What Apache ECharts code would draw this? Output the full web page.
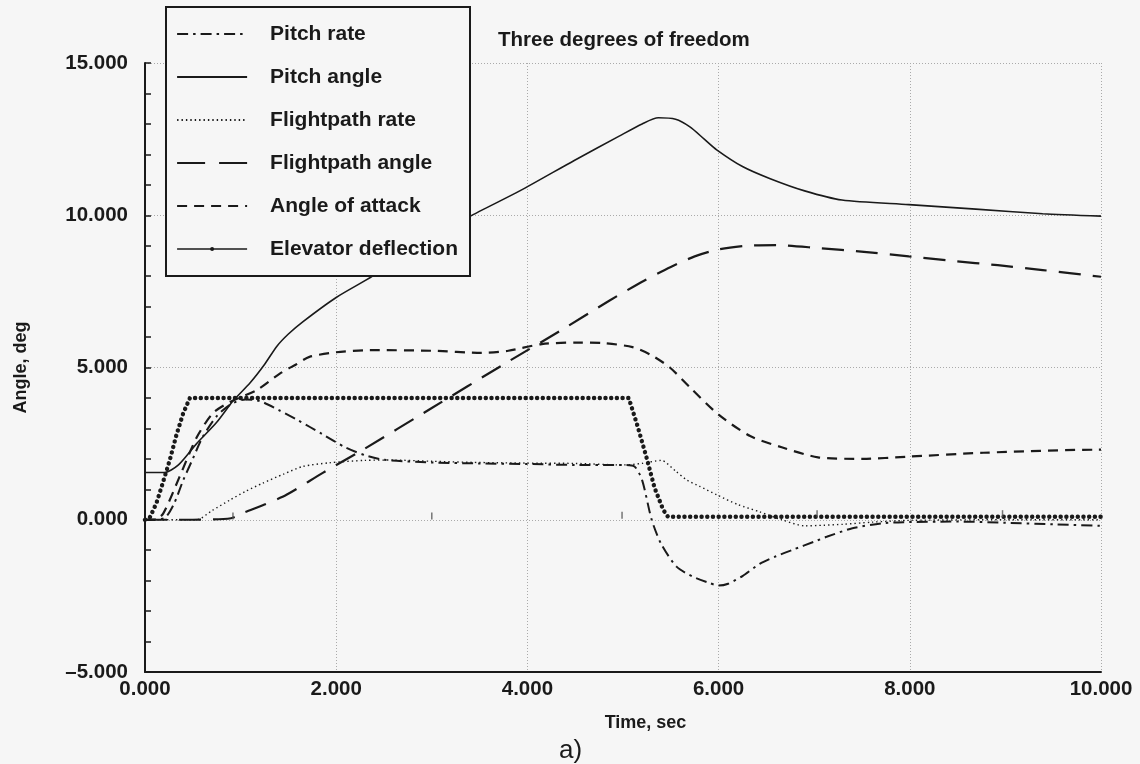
<!DOCTYPE html>
<html>
<head>
<meta charset="utf-8">
<script src="https://cdn.jsdelivr.net/npm/echarts@6/dist/echarts.min.js"></script>
<style>
html,body{margin:0;padding:0;background:#f6f6f6;}
#chart{width:1140px;height:764px;}
</style>
</head>
<body>
<div id="chart"></div>
<script>
// ---- Data (time in sec, angle in deg) ----
const xTicks = [0, 2, 4, 6, 8, 10];
const yTicks = [-5, 0, 5, 10, 15];

const pitchRateT = [0, 0.2, 0.3, 0.4, 0.5, 0.6, 0.75, 0.9, 1.05, 1.2, 1.4, 1.6, 1.85, 2.1, 2.3, 2.5, 3.0, 3.5, 4.0, 4.5, 5.0, 5.12, 5.2, 5.3, 5.4, 5.56, 5.73, 5.88, 6.0, 6.1, 6.25, 6.43, 6.6, 6.78, 7.0, 7.13, 7.4, 7.7, 7.93, 8.5, 9.0, 9.5, 10];
const pitchRateV = [0, 0.05, 0.5, 1.3, 2.0, 2.7, 3.4, 3.8, 3.95, 3.9, 3.6, 3.27, 2.82, 2.37, 2.12, 1.97, 1.88, 1.85, 1.83, 1.8, 1.8, 1.75, 1.3, 0.0, -0.8, -1.54, -1.87, -2.05, -2.16, -2.1, -1.85, -1.45, -1.2, -0.98, -0.72, -0.56, -0.28, -0.12, -0.08, -0.06, -0.1, -0.15, -0.2];

const pitchAngleT = [0, 0.2, 0.35, 0.54, 0.75, 0.92, 1.1, 1.25, 1.38, 1.5, 1.65, 2.0, 2.38, 2.8, 3.39, 3.92, 4.49, 4.96, 5.2, 5.37, 5.55, 5.7, 5.85, 5.98, 6.25, 6.54, 6.9, 7.29, 7.99, 8.69, 9.39, 10];
const pitchAngleV = [1.55, 1.55, 1.8, 2.5, 3.2, 3.9, 4.5, 5.1, 5.7, 6.1, 6.5, 7.3, 8.0, 8.9, 9.95, 10.8, 11.8, 12.6, 13.0, 13.2, 13.15, 12.9, 12.5, 12.15, 11.6, 11.2, 10.8, 10.5, 10.35, 10.2, 10.05, 9.97];

const flightpathRateT = [0, 0.54, 0.7, 0.89, 1.05, 1.23, 1.45, 1.65, 1.93, 2.3, 2.6, 3.0, 3.5, 4.0, 4.5, 5.0, 5.2, 5.4, 5.55, 5.67, 5.8, 5.98, 6.2, 6.43, 6.66, 6.9, 7.1, 7.3, 7.6, 8.0, 9.0, 10];
const flightpathRateV = [0, 0, 0.3, 0.65, 0.93, 1.2, 1.5, 1.75, 1.87, 1.95, 1.96, 1.92, 1.88, 1.86, 1.85, 1.8, 1.85, 1.95, 1.6, 1.3, 1.1, 0.82, 0.5, 0.26, 0.0, -0.2, -0.18, -0.15, -0.08, -0.02, 0, 0];

const flightpathAngleT = [0, 0.5, 0.9, 1.03, 1.25, 1.48, 1.86, 2.28, 3.0, 3.74, 4.34, 4.86, 5.22, 5.5, 5.75, 6.0, 6.3, 6.6, 7.05, 7.52, 7.99, 8.45, 8.92, 9.39, 10];
const flightpathAngleV = [0, 0, 0.05, 0.23, 0.5, 0.82, 1.54, 2.3, 3.67, 5.08, 6.2, 7.2, 7.85, 8.3, 8.65, 8.88, 9.0, 9.02, 8.92, 8.8, 8.65, 8.5, 8.36, 8.2, 7.98];

const attackT = [0, 0.1, 0.19, 0.36, 0.54, 0.71, 0.89, 1.17, 1.41, 1.58, 1.72, 2.0, 2.35, 3.0, 3.52, 3.8, 4.15, 4.54, 4.8, 5.1, 5.3, 5.49, 5.7, 6.0, 6.33, 6.66, 7.04, 7.51, 7.97, 8.77, 9.96, 10];
const attackV = [0, 0, 0.2, 1.4, 2.7, 3.5, 3.87, 4.26, 4.8, 5.1, 5.35, 5.5, 5.57, 5.55, 5.48, 5.55, 5.77, 5.82, 5.8, 5.67, 5.4, 5.0, 4.35, 3.45, 2.75, 2.38, 2.05, 2.0, 2.07, 2.2, 2.3, 2.3];

const elevatorT = [0, 0.05, 0.12, 0.19, 0.26, 0.33, 0.4, 0.47, 5.06, 5.15, 5.25, 5.33, 5.42, 5.47, 10];
const elevatorV = [0, 0.07, 0.55, 1.25, 1.97, 2.8, 3.5, 4.0, 4.0, 3.1, 2.0, 1.05, 0.33, 0.1, 0.1];

const tickMarkT = [0.92, 3.0, 4.99, 7.03, 8.97];
const tickMarkV = [0.12, 0.12, 0.15, 0.2, 0.2];

const seriesNames = ['Pitch rate', 'Pitch angle', 'Flightpath rate', 'Flightpath angle', 'Angle of attack', 'Elevator deflection'];

// ---- build ----
const zip = (t, v) => t.map((x, i) => [x, v[i]]);
const FONT = "'Liberation Sans', Arial, Helvetica, sans-serif";
const INK = '#1a1a1a';
const BG = '#f6f6f6';
const fmt = v => (v < 0 ? '\u2013' + Math.abs(v).toFixed(3) : v.toFixed(3));

const chart = echarts.init(document.getElementById('chart'), null, {renderer: 'canvas'});

function lineSeries(name, data, lineStyle, extra) {
  return Object.assign({
    name: name,
    type: 'line',
    data: data,
    symbol: 'none',
    showSymbol: false,
    smooth: 0.25,
    z: 2,
    animation: false,
    color: INK,
    lineStyle: Object.assign({color: INK}, lineStyle)
  }, extra || {});
}

const hiddenSymbol = {opacity: 0, color: 'rgba(0,0,0,0)', borderWidth: 0};

const option = {
  backgroundColor: BG,
  animation: false,
  title: {
    text: 'Three degrees of freedom',
    left: 493, top: 25,
    textStyle: {fontFamily: FONT, fontSize: 20.5, fontWeight: 'bold', color: INK}
  },
  grid: {left: 145, right: 39, top: 63, bottom: 92, containLabel: false},
  xAxis: {
    type: 'value', min: 0, max: 10, interval: 2,
    name: 'Time, sec', nameLocation: 'middle', nameGap: 42,
    nameTextStyle: {fontFamily: FONT, fontSize: 18, fontWeight: 'bold', color: INK, padding: [0, 0, 0, 45]},
    axisLine: {show: true, onZero: false, lineStyle: {color: INK, width: 2}},
    axisTick: {show: false},
    axisLabel: {fontFamily: FONT, fontSize: 20.5, fontWeight: 'bold', color: INK, margin: 7, formatter: fmt},
    splitLine: {show: true, lineStyle: {color: '#aaa', width: 1, type: [1, 2]}}
  },
  yAxis: {
    type: 'value', min: -5, max: 15, interval: 5,
    name: 'Angle, deg', nameLocation: 'middle', nameGap: 115, nameRotate: 90,
    nameTextStyle: {fontFamily: FONT, fontSize: 18, fontWeight: 'bold', color: INK},
    axisLine: {show: true, onZero: false, lineStyle: {color: INK, width: 2}},
    axisTick: {show: true, inside: true, length: 6, lineStyle: {color: INK, width: 1.5}},
    minorTick: {show: true, splitNumber: 5, length: 6, lineStyle: {color: INK, width: 1.5}},
    axisLabel: {fontFamily: FONT, fontSize: 20.5, fontWeight: 'bold', color: INK, margin: 17, formatter: fmt},
    splitLine: {show: true, lineStyle: {color: '#aaa', width: 1, type: [1, 2]}}
  },
  legend: {
    orient: 'vertical',
    left: 176, top: 22,
    padding: 0,
    itemWidth: 70, itemHeight: 5, itemGap: 19,
    selectedMode: false,
    textStyle: {fontFamily: FONT, fontSize: 21, fontWeight: 'bold', color: INK, lineHeight: 24, padding: [0, 0, 0, 18]},
    data: [
      {name: seriesNames[0], itemStyle: hiddenSymbol},
      {name: seriesNames[1], itemStyle: hiddenSymbol},
      {name: seriesNames[2], itemStyle: hiddenSymbol},
      {name: seriesNames[3], itemStyle: hiddenSymbol, lineStyle: {type: [28, 14], width: 2.2, color: INK}},
      {name: seriesNames[4], itemStyle: hiddenSymbol},
      {name: seriesNames[5], lineStyle: {type: 'solid', width: 1.6, cap: 'butt', color: INK}, itemStyle: {color: INK}}
    ],
    z: 5
  },
  graphic: [
    {type: 'rect', z: 4, shape: {x: 166, y: 7, width: 304, height: 269},
     style: {fill: BG, stroke: INK, lineWidth: 2}},
    {type: 'text', z: 5, left: 559, top: 738,
     style: {text: 'a)', fontFamily: FONT, fontSize: 26, fill: INK}}
  ],
  series: [
    lineSeries(seriesNames[0], zip(pitchRateT, pitchRateV), {width: 2, type: [11, 5, 2.5, 5]}),
    lineSeries(seriesNames[1], zip(pitchAngleT, pitchAngleV), {width: 1.6, type: 'solid'}),
    lineSeries(seriesNames[2], zip(flightpathRateT, flightpathRateV), {width: 1.4, type: [1.4, 3]}),
    lineSeries(seriesNames[3], zip(flightpathAngleT, flightpathAngleV), {width: 2.2, type: [22, 12]}),
    lineSeries(seriesNames[4], zip(attackT, attackV), {width: 2.2, type: [10, 7]}),
    lineSeries(seriesNames[5], zip(elevatorT, elevatorV), {width: 4.4, type: [0.1, 5.6], cap: 'round'},
      {symbol: 'circle', symbolSize: 6, smooth: false, itemStyle: {color: INK}}),
    {
      type: 'scatter', name: 'marks', data: zip(tickMarkT, tickMarkV),
      symbol: 'rect', symbolSize: [1.5, 7], itemStyle: {color: '#555'}, z: 2, silent: true, animation: false
    }
  ]
};
chart.setOption(option);
</script>
</body>
</html>
